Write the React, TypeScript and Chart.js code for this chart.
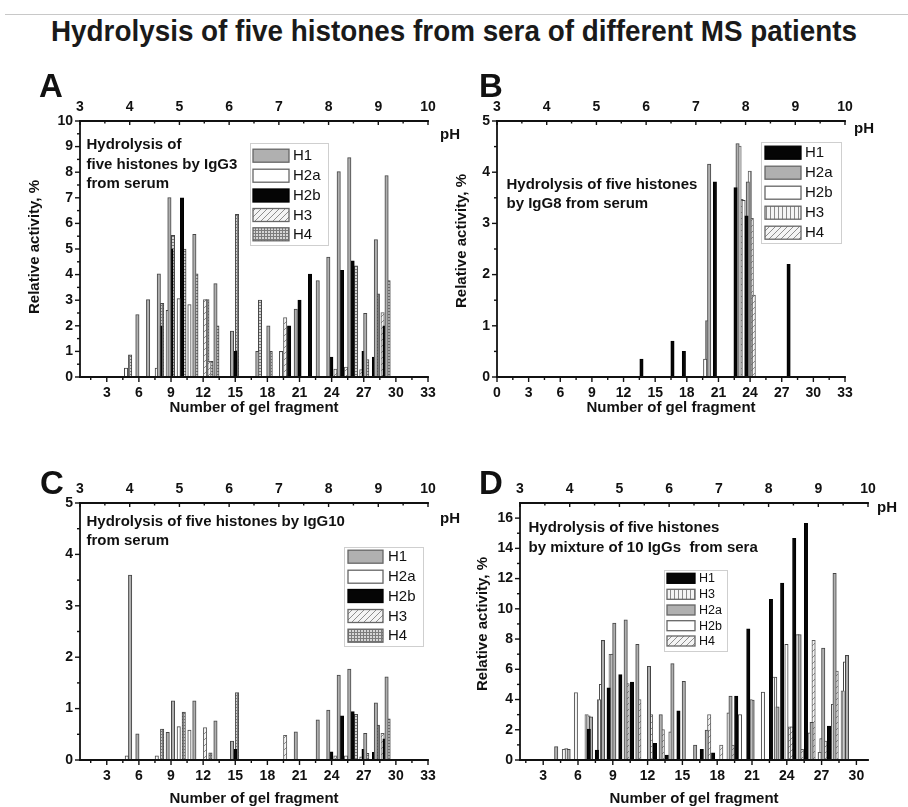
import React, { useEffect, useRef } from 'react';
import { Chart, registerables } from 'chart.js';
Chart.register(...registerables);

const FONT = "'Liberation Sans', Arial, Helvetica, sans-serif";

type Pt = [number, number];

// ---------- tick labels ----------
const GEL_TICKS_AC = [3, 6, 9, 12, 15, 18, 21, 24, 27, 30, 33];
const GEL_TICKS_B = [0, 3, 6, 9, 12, 15, 18, 21, 24, 27, 30, 33];
const GEL_TICKS_D = [3, 6, 9, 12, 15, 18, 21, 24, 27, 30];
const PH_TICKS = [3, 4, 5, 6, 7, 8, 9, 10];
const Y_TICKS_A = [0, 1, 2, 3, 4, 5, 6, 7, 8, 9, 10];
const Y_TICKS_BC = [0, 1, 2, 3, 4, 5];
const Y_TICKS_D = [0, 2, 4, 6, 8, 10, 12, 14, 16];

// ---------- Panel A (IgG3) : [gel fragment, relative activity %] ----------
const A_H1: Pt[] = [[5.86, 2.44], [6.86, 3.02], [7.86, 4.03], [8.85, 7.01], [11.18, 5.57], [13.15, 3.65], [14.70, 1.79], [17.06, 1.0], [18.09, 2.0], [20.65, 2.65], [22.70, 3.77], [23.69, 4.68], [24.66, 8.02], [25.65, 8.57], [27.14, 2.49], [28.13, 5.37], [29.13, 7.87]];
const A_H2a: Pt[] = [[4.80, 0.35], [7.67, 0.35], [8.69, 2.6], [9.72, 3.06], [10.72, 2.83], [19.28, 1.0]];
const A_H2b: Pt[] = [[8.01, 2.0], [9.04, 5.0], [10.03, 7.0], [15.01, 1.0], [20.03, 2.0], [21.0, 3.0], [21.98, 4.02], [23.97, 0.78], [24.97, 4.17], [25.96, 4.54], [26.98, 1.0], [27.95, 0.78], [28.94, 2.0]];
const A_H3: Pt[] = [[12.18, 3.02], [12.58, 0.61], [19.66, 2.32], [24.35, 0.31], [25.34, 0.39], [26.77, 0.29], [28.76, 2.52]];
const A_H4: Pt[] = [[5.18, 0.87], [8.17, 2.88], [9.19, 5.53], [10.25, 5.0], [11.37, 4.03], [12.40, 3.02], [12.77, 0.61], [13.33, 2.0], [15.17, 6.35], [17.31, 3.0], [18.31, 1.0], [26.27, 4.34], [27.33, 0.68], [28.32, 3.25], [29.32, 3.77]];

// ---------- Panel B (IgG8) ----------
const B_H1: Pt[] = [[13.70, 0.35], [16.64, 0.70], [17.72, 0.50], [20.66, 3.81], [22.62, 3.70], [23.66, 3.15], [27.65, 2.20]];
const B_H2a: Pt[] = [[20.12, 4.16], [22.81, 4.56], [23.78, 3.81]];
const B_H2b: Pt[] = [[19.74, 0.35], [23.38, 3.45]];
const B_H3: Pt[] = [[19.93, 1.10], [23.0, 4.51], [23.97, 4.02]];
const B_H4: Pt[] = [[23.19, 3.47], [24.16, 3.10], [24.35, 1.60]];

// ---------- Panel C (IgG10) ----------
const C_H1: Pt[] = [[5.18, 3.6], [5.86, 0.51], [8.69, 0.54], [9.19, 1.15], [11.18, 1.15], [13.15, 0.76], [14.70, 0.37], [20.65, 0.55], [22.70, 0.78], [23.69, 0.97], [24.66, 1.65], [25.65, 1.77], [27.14, 0.52], [28.13, 1.11], [29.13, 1.62]];
const C_H2a: Pt[] = [[4.87, 0.08], [7.67, 0.08], [9.72, 0.65], [10.72, 0.58]];
const C_H2b: Pt[] = [[15.01, 0.21], [23.97, 0.16], [24.97, 0.86], [25.96, 0.94], [26.98, 0.21], [27.95, 0.15], [28.94, 0.41]];
const C_H3: Pt[] = [[12.18, 0.63], [19.66, 0.48], [24.35, 0.08], [25.34, 0.08], [26.77, 0.06], [28.76, 0.52]];
const C_H4: Pt[] = [[8.17, 0.60], [10.19, 0.93], [12.68, 0.14], [15.17, 1.31], [26.27, 0.89], [27.33, 0.13], [28.32, 0.68], [29.32, 0.80]];

// ---------- Panel D (mixture of 10 IgGs) ----------
const D_H1: Pt[] = [[6.93, 2.05], [7.63, 0.66], [8.64, 4.77], [9.65, 5.65], [10.66, 5.16], [12.64, 1.10], [13.65, 0.33], [14.66, 3.25], [16.67, 0.70], [17.65, 0.48], [19.64, 4.22], [20.68, 8.68], [22.63, 10.62], [23.6, 11.71], [24.64, 14.66], [25.65, 15.65], [27.64, 2.24]];
const D_H3: Pt[] = [[4.78, 0.70], [5.82, 4.46], [6.74, 3.01], [7.81, 4.0], [8.81, 6.99], [20.88, 4.0], [22.83, 5.49], [26.83, 0.5], [28.82, 4.57]];
const D_H2a: Pt[] = [[4.12, 0.88], [5.19, 0.70], [7.12, 2.86], [8.15, 7.91], [9.13, 9.05], [10.11, 9.27], [11.12, 7.65], [12.12, 6.2], [13.13, 3.01], [14.14, 6.37], [15.12, 5.21], [16.1, 0.99], [17.1, 1.98], [19.15, 4.22], [21.05, 3.96], [23.2, 3.52], [25.1, 8.29], [26.14, 2.5], [27.14, 7.41], [28.12, 12.35], [29.19, 6.92]];
const D_H2b: Pt[] = [[4.99, 0.75], [6.91, 2.92], [7.98, 5.01], [8.99, 7.0], [13.97, 1.87], [18.98, 3.12], [19.96, 3.01], [21.94, 4.5], [23.0, 5.49], [23.97, 7.65], [24.92, 8.29], [25.97, 1.80], [26.98, 1.41], [27.98, 3.69], [29.02, 6.5]];
const D_H4: Pt[] = [[10.28, 5.05], [11.29, 4.0], [12.30, 3.01], [13.31, 2.02], [17.31, 3.01], [18.35, 0.99], [19.33, 0.99], [24.26, 2.2], [24.43, 2.2], [25.3, 0.70], [26.31, 7.91], [27.32, 1.25], [28.3, 5.89]];

// ---------- styles ----------
type Kind = 'gray' | 'white' | 'black' | 'hatch' | 'grid' | 'vlines';

function makeTile(kind: Kind): HTMLCanvasElement | null {
  const c = document.createElement('canvas');
  const g = c.getContext('2d')!;
  if (kind === 'hatch') {
    c.width = 6; c.height = 6;
    g.fillStyle = '#f4f4f4'; g.fillRect(0, 0, 6, 6);
    g.strokeStyle = '#8e8e8e'; g.lineWidth = 1;
    g.beginPath(); g.moveTo(0, 6); g.lineTo(6, 0); g.moveTo(-3, 3); g.lineTo(3, -3); g.moveTo(3, 9); g.lineTo(9, 3); g.stroke();
    return c;
  }
  if (kind === 'grid') {
    c.width = 3; c.height = 3;
    g.fillStyle = '#d6d6d6'; g.fillRect(0, 0, 3, 3);
    g.fillStyle = '#7c7c7c'; g.fillRect(0, 0, 3, 1); g.fillRect(0, 0, 1, 3);
    return c;
  }
  if (kind === 'vlines') {
    c.width = 4; c.height = 4;
    g.fillStyle = '#f4f4f4'; g.fillRect(0, 0, 4, 4);
    g.fillStyle = '#8a8a8a'; g.fillRect(0, 0, 1, 4);
    return c;
  }
  return null;
}

function fillFor(ctx: CanvasRenderingContext2D, kind: Kind): string | CanvasPattern {
  if (kind === 'gray') return '#b0b0b0';
  if (kind === 'white') return '#ffffff';
  if (kind === 'black') return '#050505';
  const tile = makeTile(kind)!;
  return ctx.createPattern(tile, 'repeat')!;
}
function borderFor(kind: Kind): string {
  if (kind === 'black') return '#000000';
  if (kind === 'hatch' || kind === 'vlines') return '#5e5e5e';
  return '#454545';
}

interface Series { label: string; data: Pt[]; kind: Kind; }
interface Spec {
  canvas: { x: number; y: number; w: number; h: number };
  area: { l: number; t: number; r: number; b: number };
  xMin: number; xMax: number; gelTicks: number[];
  yMax: number; yTicks: number[]; yMinor: number;
  letter: string; letterPos: [number, number];
  phPos: [number, number];
  yTitle: [number, number] | null;
  xTitle: [number, number];
  note: string[]; noteX: number; noteYs: number[];
  legend: { x: number; y: number; w: number; h: number; swX: number; swW: number; swH: number; rows: number[]; labelX: number; font: number };
  series: Series[];
}

const SPECS: Spec[] = [
  {
    canvas: { x: 0, y: 50, w: 480, h: 375 },
    area: { l: 80, t: 121, r: 428, b: 377 },
    xMin: 0.5, xMax: 33, gelTicks: GEL_TICKS_AC,
    yMax: 10, yTicks: Y_TICKS_A, yMinor: 0.5,
    letter: 'A', letterPos: [39, 97],
    phPos: [440, 135],
    yTitle: [35, 247],
    xTitle: [254, 408],
    note: ['Hydrolysis of', 'five histones by IgG3', 'from serum'], noteX: 86.5, noteYs: [145, 164.5, 184],
    legend: { x: 250, y: 143, w: 78, h: 102, swX: 253, swW: 36, swH: 13, rows: [155.7, 175.7, 195.5, 215, 234.3], labelX: 293, font: 15 },
    series: [
      { label: 'H1', data: A_H1, kind: 'gray' },
      { label: 'H2a', data: A_H2a, kind: 'white' },
      { label: 'H2b', data: A_H2b, kind: 'black' },
      { label: 'H3', data: A_H3, kind: 'hatch' },
      { label: 'H4', data: A_H4, kind: 'grid' },
    ],
  },
  {
    canvas: { x: 454, y: 50, w: 454, h: 375 },
    area: { l: 497, t: 121, r: 845, b: 377 },
    xMin: 0, xMax: 33, gelTicks: GEL_TICKS_B,
    yMax: 5, yTicks: Y_TICKS_BC, yMinor: 0.5,
    letter: 'B', letterPos: [479, 97],
    phPos: [854, 129],
    yTitle: [462, 241],
    xTitle: [671, 408],
    note: ['Hydrolysis of five histones', 'by IgG8 from serum'], noteX: 506.5, noteYs: [185, 204],
    legend: { x: 761, y: 142, w: 80, h: 101, swX: 765, swW: 36, swH: 13, rows: [152.7, 172.7, 192.7, 212.7, 232.7], labelX: 805, font: 15 },
    series: [
      { label: 'H1', data: B_H1, kind: 'black' },
      { label: 'H2a', data: B_H2a, kind: 'gray' },
      { label: 'H2b', data: B_H2b, kind: 'white' },
      { label: 'H3', data: B_H3, kind: 'vlines' },
      { label: 'H4', data: B_H4, kind: 'hatch' },
    ],
  },
  {
    canvas: { x: 0, y: 440, w: 480, h: 367 },
    area: { l: 80, t: 503, r: 428, b: 760 },
    xMin: 0.5, xMax: 33, gelTicks: GEL_TICKS_AC,
    yMax: 5, yTicks: Y_TICKS_BC, yMinor: 0.5,
    letter: 'C', letterPos: [40, 494],
    phPos: [440, 519],
    yTitle: null,
    xTitle: [254, 799],
    note: ['Hydrolysis of five histones by IgG10', 'from serum'], noteX: 86.5, noteYs: [522, 540.5],
    legend: { x: 344, y: 547, w: 79, h: 99, swX: 348, swW: 35, swH: 13, rows: [556.7, 576.7, 596, 616, 635.7], labelX: 388, font: 15 },
    series: [
      { label: 'H1', data: C_H1, kind: 'gray' },
      { label: 'H2a', data: C_H2a, kind: 'white' },
      { label: 'H2b', data: C_H2b, kind: 'black' },
      { label: 'H3', data: C_H3, kind: 'hatch' },
      { label: 'H4', data: C_H4, kind: 'grid' },
    ],
  },
  {
    canvas: { x: 454, y: 440, w: 454, h: 367 },
    area: { l: 520, t: 503, r: 868, b: 760 },
    xMin: 1, xMax: 31, gelTicks: GEL_TICKS_D,
    yMax: 17, yTicks: Y_TICKS_D, yMinor: 1,
    letter: 'D', letterPos: [479, 494],
    phPos: [877, 508],
    yTitle: [483, 624],
    xTitle: [694, 799],
    note: ['Hydrolysis of five histones', 'by mixture of 10 IgGs  from sera'], noteX: 528.5, noteYs: [528, 547.5],
    legend: { x: 664, y: 570, w: 63, h: 81, swX: 667, swW: 28, swH: 10, rows: [578.3, 594.3, 610, 625.7, 641], labelX: 699, font: 12.5 },
    series: [
      { label: 'H1', data: D_H1, kind: 'black' },
      { label: 'H3', data: D_H3, kind: 'vlines' },
      { label: 'H2a', data: D_H2a, kind: 'gray' },
      { label: 'H2b', data: D_H2b, kind: 'white' },
      { label: 'H4', data: D_H4, kind: 'hatch' },
    ],
  },
];

function decorPlugin(spec: Spec, fills: (string | CanvasPattern)[]) {
  return {
    id: 'decor' + spec.letter,
    afterDraw(chart: any) {
      const ctx: CanvasRenderingContext2D = chart.ctx;
      const xs = chart.scales.x, ys = chart.scales.y, ph = chart.scales.ph;
      const { left: l, right: r, top: t, bottom: b } = chart.chartArea;
      const ox = spec.canvas.x, oy = spec.canvas.y;
      const line = (x1: number, y1: number, x2: number, y2: number) => {
        ctx.beginPath(); ctx.moveTo(x1, y1); ctx.lineTo(x2, y2); ctx.stroke();
      };
      ctx.save();
      ctx.strokeStyle = '#111'; ctx.fillStyle = '#111';
      ctx.lineWidth = 1.8; ctx.lineCap = 'square';
      line(l, t, r, t); line(l, t, l, b); line(l, b, r, b);
      ctx.lineCap = 'butt';
      ctx.lineWidth = 1.4;
      // bottom ticks
      ctx.font = `bold 14px ${FONT}`; ctx.textAlign = 'center'; ctx.textBaseline = 'middle';
      for (const v of spec.gelTicks) {
        const px = xs.getPixelForValue(v);
        line(px, b, px, b + 5);
        ctx.fillText(String(v), px, b + 16);
      }
      for (let v = spec.gelTicks[0] - 1.5; v <= spec.xMax; v += 3) {
        if (v < spec.xMin) continue;
        const px = xs.getPixelForValue(v);
        line(px, b, px, b + 3);
      }
      // top pH ticks
      for (const v of PH_TICKS) {
        const px = ph.getPixelForValue(v);
        line(px, t, px, t + 4);
        ctx.fillText(String(v), px, t - 14);
        if (v < 10) { const pm = ph.getPixelForValue(v + 0.5); line(pm, t, pm, t + 2.5); }
      }
      // left ticks
      ctx.textAlign = 'right';
      for (const v of spec.yTicks) {
        const py = ys.getPixelForValue(v);
        line(l - 5, py, l, py);
        ctx.fillText(String(v), l - 7, py);
      }
      for (let v = spec.yMinor; v < spec.yMax; v += spec.yMinor * 2) {
        const py = ys.getPixelForValue(v);
        line(l - 3, py, l, py);
      }
      ctx.translate(-ox, -oy);
      // pH label
      ctx.textAlign = 'left'; ctx.font = `bold 15px ${FONT}`;
      ctx.fillText('pH', spec.phPos[0], spec.phPos[1]);
      // axis titles
      ctx.font = `bold 15px ${FONT}`; ctx.textAlign = 'center';
      ctx.fillText('Number of gel fragment', spec.xTitle[0], spec.xTitle[1]);
      if (spec.yTitle) {
        ctx.save();
        ctx.translate(spec.yTitle[0], spec.yTitle[1]);
        ctx.rotate(-Math.PI / 2);
        ctx.fillText('Relative activity, %', 0, 0);
        ctx.restore();
      }
      // panel letter
      ctx.font = `bold 33px ${FONT}`; ctx.textAlign = 'left'; ctx.textBaseline = 'alphabetic';
      ctx.fillText(spec.letter, spec.letterPos[0], spec.letterPos[1]);
      // note
      ctx.font = `bold 15px ${FONT}`; ctx.textBaseline = 'middle';
      spec.note.forEach((s, i) => ctx.fillText(s, spec.noteX, spec.noteYs[i]));
      // legend
      const lg = spec.legend;
      ctx.fillStyle = '#ffffff'; ctx.fillRect(lg.x, lg.y, lg.w, lg.h);
      ctx.strokeStyle = '#cfcfcf'; ctx.lineWidth = 1;
      ctx.strokeRect(lg.x + 0.5, lg.y + 0.5, lg.w, lg.h);
      spec.series.forEach((s, i) => {
        const ry = lg.rows[i];
        ctx.save();
        ctx.translate(ox, oy);
        ctx.fillStyle = fills[i] as any;
        ctx.fillRect(lg.swX - ox, ry - lg.swH / 2 - oy, lg.swW, lg.swH);
        ctx.restore();
        ctx.strokeStyle = s.kind === 'black' ? '#000' : '#666'; ctx.lineWidth = 1.3;
        ctx.strokeRect(lg.swX, ry - lg.swH / 2, lg.swW, lg.swH);
        ctx.fillStyle = '#111'; ctx.font = `${lg.font}px ${FONT}`; ctx.textAlign = 'left';
        ctx.fillText(s.label, lg.labelX, ry + 0.5);
      });
      ctx.restore();
    },
  };
}

function Panel({ spec }: { spec: Spec }) {
  const ref = useRef<HTMLCanvasElement>(null);
  useEffect(() => {
    const canvas = ref.current!;
    const ctx = canvas.getContext('2d')!;
    const fills = spec.series.map((s) => fillFor(ctx, s.kind));
    const c = spec.canvas, a = spec.area;
    const chart = new Chart(canvas, {
      type: 'bar',
      data: {
        datasets: spec.series.map((s, i) => ({
          label: s.label,
          data: s.data.map(([x, y]) => ({ x, y })),
          backgroundColor: fills[i],
          borderColor: borderFor(s.kind),
          borderWidth: 1,
          borderSkipped: 'bottom',
          barThickness: 3.4,
          grouped: false,
        })) as any,
      },
      options: {
        animation: false,
        responsive: false,
        maintainAspectRatio: false,
        devicePixelRatio: 1,
        events: [],
        layout: {
          padding: {
            left: a.l - c.x,
            top: a.t - c.y,
            right: c.x + c.w - a.r,
            bottom: c.y + c.h - a.b,
          },
        },
        plugins: { legend: { display: false }, tooltip: { enabled: false }, title: { display: false } },
        scales: {
          x: { type: 'linear', display: false, min: spec.xMin, max: spec.xMax, offset: false },
          y: { type: 'linear', display: false, min: 0, max: spec.yMax },
          ph: { type: 'linear', axis: 'x', position: 'top', display: false, min: 3, max: 10, offset: false },
        } as any,
      },
      plugins: [decorPlugin(spec, fills)],
    });
    return () => chart.destroy();
  }, [spec]);
  return (
    <canvas
      ref={ref}
      width={spec.canvas.w}
      height={spec.canvas.h}
      style={{ position: 'absolute', left: spec.canvas.x, top: spec.canvas.y, width: spec.canvas.w, height: spec.canvas.h }}
    />
  );
}

export default function App() {
  return (
    <div style={{ position: 'fixed', left: 0, top: 0, width: 908, height: 807, background: '#fff', overflow: 'hidden' }}>
      <div style={{ position: 'absolute', left: 5, top: 14, width: 903, height: 1, background: '#c8c8c8' }} />
      <div
        style={{
          position: 'absolute', left: 0, top: 14, width: 908, textAlign: 'center',
          fontFamily: FONT, fontWeight: 'bold', fontSize: 29, color: '#1a1a1a', lineHeight: '34px',
          transform: 'scaleX(0.96)',
        }}
      >
        Hydrolysis of five histones from sera of different MS patients
      </div>
      {SPECS.map((s) => (
        <Panel key={s.letter} spec={s} />
      ))}
    </div>
  );
}
